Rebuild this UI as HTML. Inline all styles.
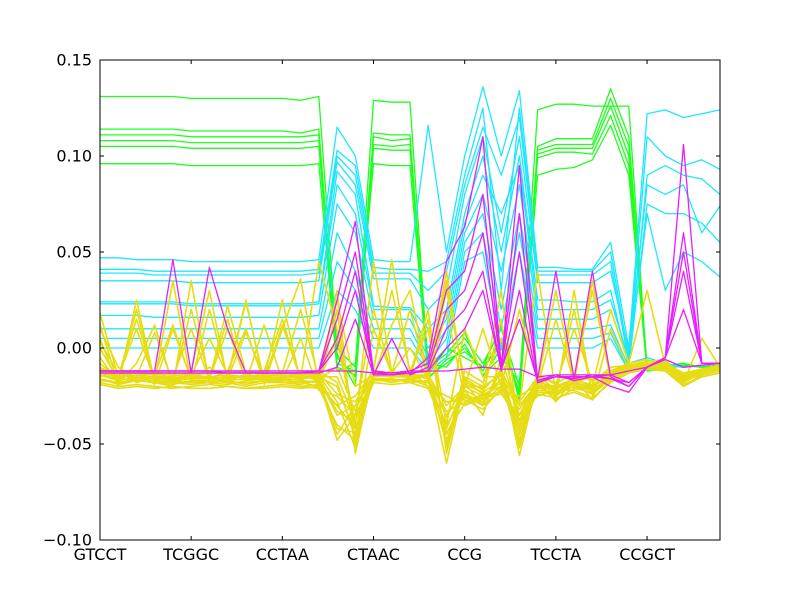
<!DOCTYPE html>
<html><head><meta charset="utf-8"><style>
body{margin:0;background:#fff;}
svg{display:block;font-family:"DejaVu Sans","Liberation Sans",sans-serif;}
</style></head><body>
<svg id="chart" width="800" height="600" viewBox="0 0 800 600">
<rect x="0" y="0" width="800" height="600" fill="#fff"/>
<g id="lines"></g>
<g id="axes"></g>
</svg>
<script>
const categories=["GTCCT","TCGGC","CCTAA","CTAAC","CCG","TCCTA","CCGCT"];
const yTicks=[-0.10,-0.05,0.00,0.05,0.10,0.15];
const yTickLabels=["\u22120.10","\u22120.05","0.00","0.05","0.10","0.15"];
const greenSeries=[
[131,131,131,131,131,130,130,130,130,130,130,129,131,0,-10,129,128,128,-12,-5,5,-8,10,-20,124,127,127,126,126,126,-12,-10,-8,-10,-9],
[114,114,114,114,114,113,113,113,113,113,113,112,114,-5,-15,112,111,111,-15,-8,0,-12,5,-25,105,109,109,109,135,110,-10,-10,-8,-10,-9],
[111,111,111,111,111,110,110,110,110,110,110,110,111,-8,-12,110,108,109,-10,-3,8,-15,0,-22,103,106,106,106,130,105,-11,-10,-9,-10,-9],
[108,108,108,108,108,107,107,107,107,107,107,107,108,-10,-14,106,105,106,-14,0,-5,-10,12,-28,101,104,104,104,126,100,-11,-9,-8,-10,-9],
[105,105,105,105,105,104,104,104,104,104,104,104,105,-3,-20,104,103,103,-8,-10,2,-14,-5,-18,99,102,102,101,121,95,-12,-10,-9,-10,-9],
[96,96,96,96,96,95,95,95,95,95,95,95,96,-12,-8,96,95,95,-16,-6,-2,-10,3,-24,90,93,94,98,116,90,-12,-11,-9,-10,-9]
];
const cyanSeries=[
[47,47,46,46,46,45,45,45,45,45,45,45,46,115,100,46,45,45,116,50,100,136,100,134,42,42,41,41,55,0,122,124,120,122,124],
[41,41,41,40,40,40,40,40,40,40,40,40,41,103,95,42,41,41,40,45,90,125,30,125,40,40,40,40,50,-5,110,100,95,98,93],
[39,39,39,38,38,38,38,38,38,38,38,38,39,100,90,39,39,39,30,40,85,115,90,120,38,38,38,38,45,-8,90,95,90,88,80],
[35,35,35,35,35,34,34,34,34,34,34,34,35,97,85,36,36,36,20,30,80,110,60,110,34,34,34,34,40,-2,85,80,85,60,74],
[24,24,24,24,24,23,23,23,23,23,23,23,24,92,80,22,21,21,10,20,70,100,50,100,25,25,24,24,30,-10,75,70,70,65,55],
[23,23,23,23,23,22,22,22,22,22,22,22,23,85,70,20,20,20,0,15,65,90,70,95,20,20,20,20,25,-6,70,30,50,45,37],
[17,17,17,16,16,16,16,16,16,16,16,16,17,75,60,15,15,15,-5,10,60,80,40,85,15,15,15,15,20,-8,-5,-8,-10,-9,-8],
[10,10,10,10,10,10,10,10,10,10,10,10,10,60,40,10,10,10,-8,5,55,70,20,70,10,10,10,10,12,-10,-8,-9,-10,-9,-8],
[5,5,5,5,5,5,5,5,5,5,5,5,5,45,30,5,5,5,-10,0,50,60,10,60,5,5,5,5,8,-12,-9,-9,-10,-9,-8],
[0,0,0,0,0,0,0,0,0,0,0,0,0,30,20,0,0,0,-12,-5,45,50,0,50,0,0,0,0,5,-12,-10,-9,-10,-9,-8]
];
const yellowSeries=[
[-15,-12,-18,-15,-16,-14,-15,-16,-14,-15,-16,-13,-15,-20,-45,-14,-15,-13,-16,-35,-20,-25,-18,-40,-20,-25,-18,-22,-15,-12,-10,-8,-14,-12,-10],
[5,-20,25,-18,-20,35,-19,-15,25,-19,10,36,-20,30,-55,-12,46,-14,-15,-60,-18,-30,-10,-56,-17,-28,-16,-27,10,-11,-8,-9,-20,-14,-12],
[18,-15,10,-17,35,-18,20,-16,24,-17,12,-16,45,10,-40,45,-13,0,-16,35,-20,10,-20,20,-18,30,-18,35,-14,-9,-7,-6,-17,-11,-9],
[-5,-18,-8,12,-19,-12,30,-17,-14,-16,25,-18,-20,20,-50,-15,12,30,-15,-50,-15,-20,30,-45,-16,-23,-20,-20,20,-8,-6,-10,-18,5,-10],
[10,-10,-16,-15,-18,20,-16,-12,10,-18,-17,5,-22,-25,-35,20,-14,-15,15,-40,10,-15,-15,-30,40,-24,-15,30,-16,-10,-8,-11,-16,-13,-11],
[-10,-15,15,-16,-17,-18,-18,-19,-17,-16,-15,-20,-19,-30,-25,-12,-13,-14,-14,40,-22,-35,-5,-35,-15,-26,30,-25,-12,-8,30,-9,-15,-12,-10],
[-12,-14,-13,-14,-14,-15,-16,-15,-15,-14,-14,-15,-16,-35,-30,-14,-15,-15,-14,-30,-20,-20,-14,-50,-20,-20,-18,-20,-14,-10,-8,-8,-14,-11,-9],
[0,-17,-12,-19,10,-16,-15,15,-18,12,-17,-14,-17,5,-42,-13,-14,-12,-20,-45,-24,-28,-20,-42,-14,-22,20,-24,-16,-12,-9,-12,-18,-13,-11],
[-18,-20,-19,-20,-21,-20,-19,-20,-21,-20,-19,-20,-21,-40,-48,-16,-18,-16,-20,-25,-30,-26,-24,-35,-25,-22,-22,-26,-18,-13,-11,-12,-19,-15,-13],
[3,-13,-16,-12,-17,-14,5,-14,-16,-15,-14,-16,-14,25,-20,-14,-14,-14,20,-55,-16,-22,-12,-30,-18,-20,-16,-16,-12,-10,-8,-8,-15,-12,-10],
[-14,-16,20,-17,-15,10,-17,22,-13,-17,-16,-12,-15,-15,-38,-15,-12,-16,-15,30,-17,-24,15,-48,-21,-21,-19,-21,-13,-9,-9,-10,-16,-12,-10],
[-16,-19,-17,-18,-19,-17,-17,-18,-20,-18,-18,-17,-18,-45,-30,-16,-16,-18,-17,-40,-25,-30,-22,-25,-19,-27,-21,-23,-15,-11,-10,-11,-17,-14,-12],
[-13,-15,-14,-15,-15,-16,-15,-14,-15,-16,-15,-14,-14,-28,-52,-15,-14,-15,-15,-48,-22,-27,-16,-52,-18,-24,-17,-19,-14,-10,-9,-9,-15,-12,-10],
[-17,-18,-16,-17,-18,-19,-18,-17,-19,-17,-18,-19,-17,-42,-44,-17,-17,-17,-18,-33,-28,-24,-20,-45,-22,-23,-20,-24,-16,-12,-10,-10,-17,-13,-11],
[-8,-16,-12,-14,12,-17,-10,-16,8,-15,-13,20,-16,-10,-33,-10,30,-12,10,-52,-12,-18,5,-38,-14,-19,10,-18,-10,-9,-8,-7,-14,-11,-9],
[12,-19,-15,8,-18,-14,-16,10,-17,-12,15,-17,-12,-18,-47,10,-13,20,-17,20,-26,-29,-12,-44,-20,15,-18,-15,-13,-10,-9,-8,-16,-12,-10],
[-14,-17,-15,-16,-17,-16,-16,-17,-16,-16,-17,-16,-15,-33,-38,-13,-15,-14,-16,-42,-19,-23,-17,-32,-17,-21,-16,-20,-13,-10,-9,-9,-15,-12,-10],
[-16,-18,-17,-18,-18,-18,-17,-18,-18,-17,-18,-18,-17,-48,-35,-16,-17,-16,-18,-28,-27,-32,-21,-38,-23,-24,-20,-22,-15,-11,-10,-10,-16,-13,-11],
[-11,-13,-12,-13,-13,-14,-13,-13,-12,-13,-13,-14,-13,-24,-28,-12,-13,-12,-13,-36,-18,-21,-13,-28,-15,-18,-14,-17,-12,-9,-8,-8,-13,-11,-9],
[-19,-21,-20,-21,-20,-21,-21,-20,-21,-21,-20,-21,-20,-30,-42,-18,-19,-18,-21,-44,-29,-25,-23,-40,-24,-26,-23,-27,-17,-13,-11,-12,-20,-15,-13]
];
const magentaSeries=[
[-12,-12,-12,-12,46,-13,42,10,-13,-13,-13,-13,-12,25,66,-13,-14,-13,-5,45,63,110,-10,95,-18,-15,-15,-15,-20,-23,-10,-5,106,-8,-8],
[-12,-12,-12,-12,-12,-12,-12,-13,-13,-13,-13,-13,-12,15,50,-12,-13,-12,-8,30,40,80,-10,70,-16,40,-16,40,-15,-20,-10,-5,60,-8,-8],
[-13,-13,-13,-13,-13,-13,-13,-13,-13,-13,-13,-13,-12,5,40,-14,5,-14,-10,20,30,60,-10,50,-17,-14,-17,-15,-14,-18,-10,-5,50,-8,-8],
[-12,-12,-12,-12,-12,-12,-12,-12,-12,-12,-12,-12,-12,0,30,-13,-13,-12,-12,10,20,40,-12,30,-18,-15,-16,-14,-16,-20,-10,-5,40,-8,-8],
[-13,-13,-13,-13,-13,-13,-13,-13,-13,-13,-13,-13,-13,-10,15,-14,-14,-13,-12,0,10,30,-11,15,-17,-15,-15,-15,-16,-18,-10,-5,20,-8,-8],
[-12,-12,-12,-12,-12,-12,-12,-12,-12,-12,-12,-12,-12,-12,-12,-13,-13,-13,-12,-12,-11,-10,-11,-11,-15,-14,-14,-14,-14,-12,-10,-6,-10,-9,-8]
];
const NS="http://www.w3.org/2000/svg";
const X0=100,X1=720,Y0=60,Y1=540,VMIN=-0.10,VMAX=0.15,NCOL=35;
function xScale(i){return X0+i*(X1-X0)/(NCOL-1);}
function yScale(v){return Y1-(v-VMIN)/(VMAX-VMIN)*(Y1-Y0);}
const lines=document.getElementById('lines');
function drawGroup(series,color,name,w){
  series.forEach((s,k)=>{
    const p=document.createElementNS(NS,'polyline');
    p.setAttribute('points',s.map((v,i)=>xScale(i).toFixed(1)+','+yScale(v/1000).toFixed(1)).join(' '));
    p.setAttribute('fill','none');p.setAttribute('stroke',color);p.setAttribute('stroke-width',w);
    p.setAttribute('stroke-linejoin','round');
    
    
    lines.appendChild(p);
  });
}
drawGroup(greenSeries,'#1eff1e','green','1.3');
drawGroup(cyanSeries,'#1ee6ff','cyan','1.3');
drawGroup(yellowSeries,'#e6dc14','yellow','1.6');
drawGroup(magentaSeries,'#e61eff','magenta','1.3');
const axes=document.getElementById('axes');
const frame=document.createElementNS(NS,'rect');
frame.setAttribute('x',X0);frame.setAttribute('y',Y0);frame.setAttribute('width',X1-X0);frame.setAttribute('height',Y1-Y0);
frame.setAttribute('fill','none');frame.setAttribute('stroke','#000');frame.setAttribute('stroke-width','1');


axes.appendChild(frame);
function addLine(x1,y1,x2,y2){const l=document.createElementNS(NS,'line');l.setAttribute('x1',x1);l.setAttribute('y1',y1);l.setAttribute('x2',x2);l.setAttribute('y2',y2);l.setAttribute('stroke','#000');


axes.appendChild(l);}
yTicks.forEach((v,i)=>{
  const y=yScale(v);
  addLine(X0,y,X0+4,y);addLine(X1,y,X1-4,y);
  const t=document.createElementNS(NS,'text');
  t.setAttribute('x',X0-8);t.setAttribute('y',y+5.5);t.setAttribute('text-anchor','end');t.setAttribute('font-size','16');
  t.textContent=yTickLabels[i];
  
  
  axes.appendChild(t);
});
categories.forEach((c,i)=>{
  const x=xScale(i*5);
  addLine(x,Y1,x,Y1-4);addLine(x,Y0,x,Y0+4);
  const t=document.createElementNS(NS,'text');
  t.setAttribute('x',x);t.setAttribute('y',Y1+20);t.setAttribute('text-anchor','middle');t.setAttribute('font-size','16');
  t.textContent=c;
  
  
  axes.appendChild(t);
});
</script>
</body></html>
